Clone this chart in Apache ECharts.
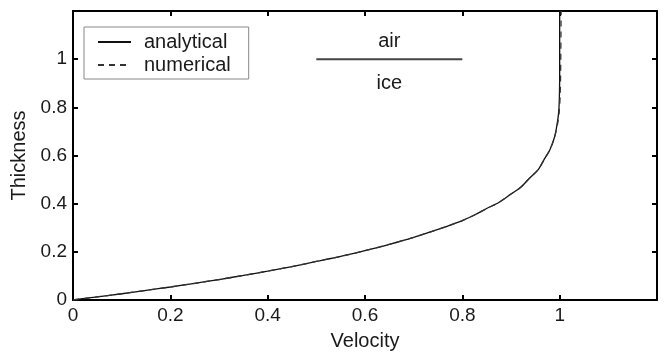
<!DOCTYPE html>
<html>
<head>
<meta charset="utf-8">
<script src="https://cdn.jsdelivr.net/npm/echarts@6/dist/echarts.min.js"></script>
<style>html,body{margin:0;padding:0;background:#fff}#c{width:667px;height:356px}</style>
</head>
<body>
<div id="c"></div>
<script>
// Velocity / thickness
const analyticalVelocity = [0, 0.05, 0.1, 0.15, 0.2, 0.25, 0.3, 0.35, 0.4, 0.45, 0.5, 0.55, 0.6, 0.65, 0.7, 0.75, 0.775, 0.8, 0.825, 0.85, 0.875, 0.9, 0.92, 0.94, 0.955, 0.97, 0.98, 0.99, 0.995, 0.998, 0.9995, 1.0, 1.0];
const analyticalThickness = [0, 0.013, 0.026, 0.040, 0.054, 0.069, 0.085, 0.102, 0.12, 0.139, 0.16, 0.181, 0.205, 0.231, 0.26, 0.293, 0.311, 0.33, 0.353, 0.38, 0.405, 0.44, 0.468, 0.51, 0.539, 0.59, 0.624, 0.68, 0.734, 0.78, 0.85, 0.95, 1.2];
const numericalVelocity = [0, 0.05, 0.1, 0.15, 0.2, 0.25, 0.3, 0.35, 0.4, 0.45, 0.5, 0.55, 0.6, 0.65, 0.7, 0.75, 0.775, 0.8, 0.825, 0.85, 0.875, 0.9, 0.92, 0.94, 0.955, 0.97, 0.98, 0.99, 0.996, 0.999, 1.001, 1.002, 1.003];
const numericalThickness = [0, 0.013, 0.026, 0.040, 0.054, 0.069, 0.085, 0.102, 0.12, 0.139, 0.16, 0.181, 0.205, 0.231, 0.26, 0.293, 0.311, 0.33, 0.353, 0.38, 0.405, 0.44, 0.468, 0.51, 0.539, 0.59, 0.624, 0.68, 0.734, 0.78, 0.85, 0.95, 1.2];
const interfaceVelocity = [0.5, 0.8];
const interfaceThickness = [1.0, 1.0];
const seriesNames = ['analytical', 'numerical'];
const annotations = [{ text: 'air', x: 0.65, y: 1.072 }, { text: 'ice', x: 0.65, y: 0.898 }];

const FONT = 'Liberation Sans, Arial, Helvetica, sans-serif';
const FS = 19;
const FT = 20;
const TXT = '#1a1a1a';
const zip = (a, b) => a.map((v, i) => [v, b[i]]);

const chart = echarts.init(document.getElementById('c'));
const axisCommon = {
  type: 'value', min: 0, max: 1.2, interval: 0.2,
  axisLine: { show: true, onZero: false, lineStyle: { color: '#000', width: 2 } },
  axisTick: { show: true, inside: true, length: 5, lineStyle: { color: '#000', width: 2 } },
  splitLine: { show: false },
};
chart.setOption({
  animation: false,
  grid: { left: 73, right: 10, top: 11, bottom: 55 },
  xAxis: [
    Object.assign({}, axisCommon, {
      position: 'bottom', name: 'Velocity', nameLocation: 'middle', nameGap: 31,
      nameTextStyle: { fontFamily: FONT, fontSize: FT, color: TXT },
      axisLabel: { showMaxLabel: false, margin: 6, fontFamily: FONT, fontSize: FS, color: TXT,
        formatter: v => String(+v.toFixed(1)) }
    }),
    Object.assign({}, axisCommon, { position: 'top', axisLabel: { show: false } })
  ],
  yAxis: [
    Object.assign({}, axisCommon, {
      position: 'left', name: 'Thickness', nameLocation: 'middle', nameGap: 40,
      nameTextStyle: { fontFamily: FONT, fontSize: FT, color: TXT },
      axisLabel: { showMaxLabel: false, margin: 6, fontFamily: FONT, fontSize: FS, color: TXT,
        formatter: v => String(+v.toFixed(1)) }
    }),
    Object.assign({}, axisCommon, { position: 'right', axisLabel: { show: false } })
  ],
  legend: {
    left: 84, top: 27, orient: 'vertical',
    backgroundColor: '#fff', borderColor: '#888', borderWidth: 1,
    padding: [5, 18, 4, 13], itemGap: 3, itemWidth: 33, itemHeight: 18,
    itemStyle: { opacity: 0 },
    textStyle: { fontFamily: FONT, fontSize: FT, color: TXT, padding: [0, 0, 0, 8] },
    data: seriesNames
  },
  series: [
    {
      name: seriesNames[0], type: 'line', data: zip(analyticalVelocity, analyticalThickness),
      smooth: 0.3, showSymbol: false, symbol: 'none',
      lineStyle: { color: '#111', width: 1.3, type: 'solid' }, itemStyle: { color: '#111' }, z: 3
    },
    {
      name: seriesNames[1], type: 'line', data: zip(numericalVelocity, numericalThickness),
      smooth: 0.3, showSymbol: false, symbol: 'none',
      lineStyle: { color: '#333', width: 1.3, type: [6, 5] }, itemStyle: { color: '#333' }, z: 4
    },
    {
      name: 'interface', type: 'line', data: zip(interfaceVelocity, interfaceThickness),
      showSymbol: false, symbol: 'none', lineStyle: { color: '#444', width: 2 }, silent: true
    },
    {
      name: 'labels', type: 'scatter', symbolSize: 0, silent: true,
      itemStyle: { color: TXT, opacity: 1 },
      data: annotations.map(a => ({ value: [a.x, a.y], label: { show: true, formatter: a.text } })),
      label: { show: true, position: 'inside', fontFamily: FONT, fontSize: FT, color: TXT, opacity: 1 }
    }
  ]
});
</script>
</body>
</html>
